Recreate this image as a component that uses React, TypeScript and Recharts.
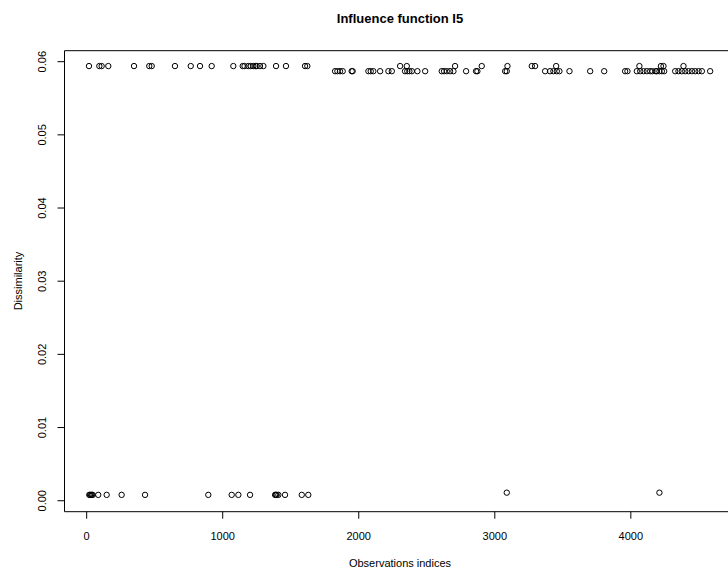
import { ScatterChart, Scatter, XAxis, YAxis, ReferenceArea } from 'recharts';

// levels of the three point rows (dissimilarity)
const TOP_HIGH = 0.0594;
const TOP_LOW = 0.0587;
const BOTTOM = 0.0008;
const BOTTOM_HIGH = 0.0011;

const topHighIdx = [
  17, 93, 110, 159, 348, 460, 478, 649, 765, 833, 919, 1078, 1147, 1160, 1188, 1206,
  1225, 1240, 1250, 1274, 1299, 1392, 1465, 1605, 1622, 2304, 2353, 2708, 2904, 3093,
  3272, 3296, 3451, 4063, 4221, 4240, 4387,
];
const topLowIdx = [
  1826, 1843, 1862, 1882, 1948, 1955, 2071, 2088, 2107, 2157, 2218, 2243, 2340, 2357,
  2372, 2390, 2431, 2488, 2610, 2627, 2647, 2671, 2696, 2789, 2862, 2872, 3076, 3088,
  3370, 3406, 3431, 3456, 3475, 3549, 3701, 3804, 3958, 3975, 4044, 4069, 4093, 4118,
  4142, 4159, 4184, 4191, 4210, 4228, 4245, 4326, 4350, 4375, 4400, 4424, 4449, 4473,
  4498, 4522, 4583,
];
const bottomIdx = [
  19, 25, 32, 38, 44, 85, 147, 257, 429, 894, 1066, 1115, 1201, 1385, 1391, 1397, 1409,
  1458, 1581, 1629,
];
const bottomHighIdx = [3088, 4210];

const xTicks = [0, 1000, 2000, 3000, 4000];
const yTicks = [0, 0.01, 0.02, 0.03, 0.04, 0.05, 0.06];
const xDomain = [-163, 4773];
const yDomain = [-0.0015, 0.0615];

const points = [
  ...topHighIdx.map((x) => ({ x, y: TOP_HIGH })),
  ...topLowIdx.map((x) => ({ x, y: TOP_LOW })),
  ...bottomIdx.map((x) => ({ x, y: BOTTOM })),
  ...bottomHighIdx.map((x) => ({ x, y: BOTTOM_HIGH })),
];

const FONT = '"Liberation Sans", Arial, Helvetica, sans-serif';

const XTick = ({ x, y, payload }: any) => (
  <text x={x} y={y + 19} textAnchor="middle" fontSize={11} fontFamily={FONT} fill="#000">
    {payload.value}
  </text>
);

const YTick = ({ x, y, payload }: any) => (
  <text
    x={x}
    y={y}
    transform={`rotate(-90 ${x} ${y})`}
    textAnchor="middle"
    fontSize={11}
    fontFamily={FONT}
    fill="#000"
  >
    {Number(payload.value).toFixed(2)}
  </text>
);

const OpenCircle = (props: any) => (
  <circle cx={props.cx} cy={props.cy} r={2.7} fill="none" stroke="#000" strokeWidth={1} />
);

export default function App() {
  return (
    <div style={{ position: 'relative', width: 728, height: 572, overflow: 'hidden', background: '#fff' }}>
      <style>{'body{margin:0}'}</style>
      <ScatterChart
        width={736}
        height={572}
        margin={{ top: 50.7, right: 0, bottom: 30.3, left: 14.5 }}
      >
        <XAxis
          type="number"
          dataKey="x"
          domain={xDomain}
          ticks={xTicks}
          allowDataOverflow
          axisLine={false}
          tickLine={{ stroke: '#000' }}
          tickSize={7}
          tickMargin={2}
          height={30}
          tick={<XTick />}
          interval={0}
        />
        <YAxis
          type="number"
          dataKey="y"
          domain={yDomain}
          ticks={yTicks}
          allowDataOverflow
          axisLine={false}
          tickLine={{ stroke: '#000' }}
          tickSize={7}
          tickMargin={11}
          width={50}
          tick={<YTick />}
          interval={0}
        />
        <ReferenceArea
          x1={xDomain[0]}
          x2={xDomain[1]}
          y1={yDomain[0]}
          y2={yDomain[1]}
          fill="none"
          stroke="#000"
          strokeWidth={1}
          ifOverflow="visible"
        />
        <Scatter data={points} shape={<OpenCircle />} isAnimationActive={false} />
      </ScatterChart>
      <svg
        width={728}
        height={572}
        style={{ position: 'absolute', left: 0, top: 0, pointerEvents: 'none' }}
      >
        <text x={400} y={23} textAnchor="middle" fontSize={13} fontWeight="bold" fontFamily={FONT}>
          Influence function I5
        </text>
        <text x={400} y={567} textAnchor="middle" fontSize={11} fontFamily={FONT}>
          Observations indices
        </text>
        <text
          x={22}
          y={281}
          transform="rotate(-90 22 281)"
          textAnchor="middle"
          fontSize={11}
          fontFamily={FONT}
        >
          Dissimilarity
        </text>
      </svg>
    </div>
  );
}
